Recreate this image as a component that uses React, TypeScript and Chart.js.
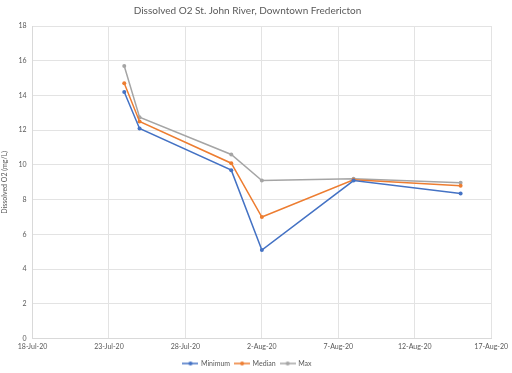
import React, { useEffect, useRef } from "react";
import { Chart, registerables } from "chart.js";

Chart.register(...registerables);

// day offsets from 18-Jul-2020
const dayOffsets = [6, 7, 13, 15, 21, 28];
const minimumValues = [14.2, 12.1, 9.7, 5.1, 9.1, 8.35];
const medianValues = [14.7, 12.5, 10.1, 7.0, 9.15, 8.8];
const maxValues = [15.7, 12.75, 10.6, 9.1, 9.2, 8.97];
const seriesNames = ["Minimum", "Median", "Max"];
const seriesColors = ["#4472C4", "#ED7D31", "#A5A5A5"];
const xTickLabels = ["18-Jul-20", "23-Jul-20", "28-Jul-20", "2-Aug-20", "7-Aug-20", "12-Aug-20", "17-Aug-20"];

const FONT = "Lato, 'Open Sans', sans-serif";

function legendIcon(color: string): HTMLCanvasElement {
  const c = document.createElement("canvas");
  c.width = 16;
  c.height = 6;
  const ctx = c.getContext("2d")!;
  ctx.strokeStyle = color;
  ctx.lineWidth = 1.5;
  ctx.beginPath();
  ctx.moveTo(0, 3);
  ctx.lineTo(16, 3);
  ctx.stroke();
  ctx.fillStyle = color;
  ctx.beginPath();
  ctx.arc(8, 3, 2, 0, Math.PI * 2);
  ctx.fill();
  return c;
}

export default function App() {
  const ref = useRef<HTMLCanvasElement | null>(null);
  useEffect(() => {
    document.body.style.margin = "0";
    const all = [minimumValues, medianValues, maxValues];
    const chart = new Chart(ref.current!, {
      type: "line",
      data: {
        datasets: all.map((vals, i) => ({
          label: seriesNames[i],
          data: vals.map((v, j) => ({ x: dayOffsets[j], y: v })),
          borderColor: seriesColors[i],
          backgroundColor: seriesColors[i],
          borderWidth: 1.5,
          pointRadius: 2,
          pointBorderWidth: 0,
          pointHoverRadius: 2,
          tension: 0,
        })),
      },
      options: {
        animation: false,
        responsive: false,
        maintainAspectRatio: false,
        layout: { padding: { left: 1, right: 18, top: 0, bottom: -4 } },
        plugins: {
          title: {
            display: true,
            text: "Dissolved O2 St. John River, Downtown Fredericton",
            color: "#595959",
            font: { family: FONT, size: 10, weight: "normal" },
            padding: { top: 5, bottom: 9 },
          },
          legend: {
            position: "bottom",
            labels: {
              color: "#595959",
              font: { family: FONT, size: 7 },
              usePointStyle: true,
              pointStyleWidth: 14,
              boxHeight: 6,
              padding: 5,
              generateLabels: () =>
                seriesNames.map((n, i) => ({
                  text: n,
                  pointStyle: legendIcon(seriesColors[i]),
                  fillStyle: seriesColors[i],
                  strokeStyle: seriesColors[i],
                  fontColor: "#595959",
                  lineWidth: 0,
                  hidden: false,
                  datasetIndex: i,
                })),
            },
          },
          tooltip: { enabled: false },
        },
        scales: {
          x: {
            type: "linear",
            min: 0,
            max: 30,
            ticks: {
              stepSize: 5,
              color: "#595959",
              font: { family: FONT, size: 7 },
              maxRotation: 0,
              padding: 4,
              callback: (v: any) => xTickLabels[Math.round(Number(v) / 5)] ?? "",
            },
            grid: { color: "#E3E3E3", drawTicks: false },
            border: { color: "#D9D9D9" },
          },
          y: {
            min: 0,
            max: 18,
            ticks: {
              stepSize: 2,
              color: "#595959",
              font: { family: FONT, size: 7 },
              padding: 6,
            },
            grid: { color: "#E3E3E3", drawTicks: false },
            border: { color: "#D9D9D9" },
            title: {
              display: true,
              text: "Dissolved O2 (mg/L)",
              color: "#595959",
              font: { family: FONT, size: 7 },
              padding: { top: 0, bottom: 3 },
            },
          },
        },
      },
    });
    return () => chart.destroy();
  }, []);
  return (
    <div style={{ position: "absolute", left: 0, top: 0, width: 512, height: 373, background: "#fff" }}>
      <canvas ref={ref} width={512} height={373} style={{ width: 512, height: 373 }} />
    </div>
  );
}
